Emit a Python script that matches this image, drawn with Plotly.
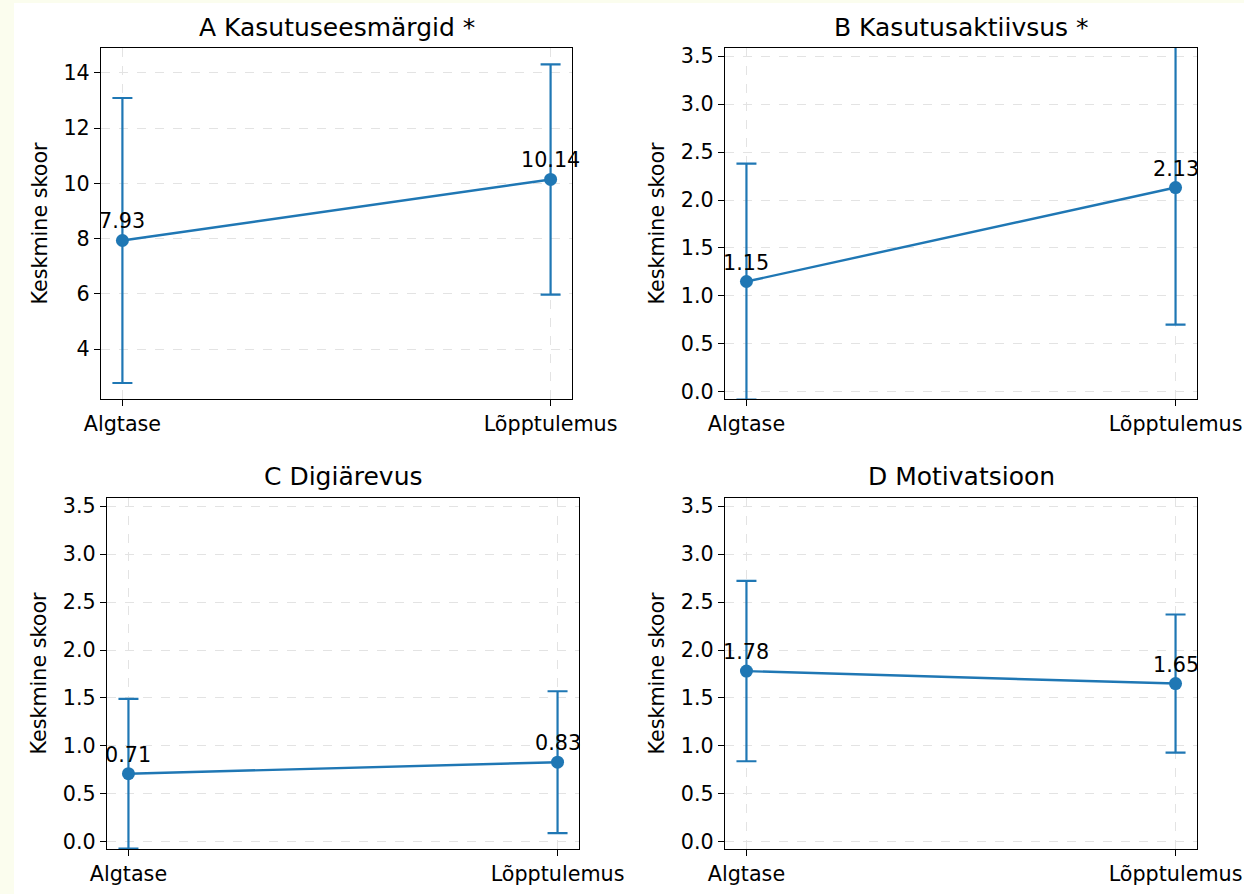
import plotly.graph_objects as go

W, H = 1244, 894

stages = ["Algtase", "Lõpptulemus"]
titles = ["A Kasutuseesmärgid *", "B Kasutusaktiivsus *", "C Digiärevus", "D Motivatsioon"]
means_A = [7.93, 10.14]
err_up_A = [5.16, 4.17]
err_down_A = [5.16, 4.17]
means_B = [1.15, 2.13]
err_up_B = [1.23, 1.50]
err_down_B = [1.23, 1.43]
means_C = [0.71, 0.83]
err_up_C = [0.78, 0.74]
err_down_C = [0.78, 0.74]
means_D = [1.78, 1.65]
err_up_D = [0.94, 0.72]
err_down_D = [0.94, 0.72]
means = [means_A, means_B, means_C, means_D]
errs_up = [err_up_A, err_up_B, err_up_C, err_up_D]
errs_down = [err_down_A, err_down_B, err_down_C, err_down_D]

# axes boxes in pixels: (left, right, top, bottom)
boxes = [(101, 572, 48, 399), (725, 1197, 48, 399), (107, 579, 498, 849), (725, 1197, 498, 849)]
yranges = [[2.19, 14.9], [-0.075, 3.585], [-0.075, 3.585], [-0.075, 3.585]]
yticks = [[4, 6, 8, 10, 12, 14], [0, 0.5, 1, 1.5, 2, 2.5, 3, 3.5]]

COLOR = "#1f77b4"
FONT = "DejaVu Sans"
BG = "#fbfdee"
TICK = 20.7
TITLE = 25

fig = go.Figure()
layout = dict(
    width=W, height=H, margin=dict(l=0, r=0, t=0, b=0, autoexpand=False),
    paper_bgcolor=BG, plot_bgcolor="white", showlegend=False,
    font=dict(family=FONT, size=TICK, color="black"),
)
annotations = []
shapes = [dict(type="rect", xref="paper", yref="paper", x0=14 / W, x1=1, y0=0, y1=1 - 3 / H,
               fillcolor="white", line=dict(width=0), layer="below")]

for i in range(4):
    n = "" if i == 0 else str(i + 1)
    l, r, t, b = boxes[i]
    xa = "x" + n
    ya = "y" + n
    fig.add_trace(go.Scatter(
        x=[0, 1], y=means[i], mode="lines+markers",
        line=dict(color=COLOR, width=2.4),
        marker=dict(color=COLOR, size=13),
        error_y=dict(type="data", symmetric=False, array=errs_up[i], arrayminus=errs_down[i],
                     visible=True, color=COLOR, thickness=2.2, width=10),
        xaxis=xa, yaxis=ya, hoverinfo="skip",
    ))
    tv = yticks[0] if i == 0 else yticks[1]
    layout["xaxis" + n] = dict(
        domain=[l / W, r / W], range=[-0.05, 1.05], anchor=ya, automargin=False,
        tickvals=[0, 1], ticktext=stages, showline=True, mirror=True, linecolor="black", linewidth=1.3,
        ticks="outside", ticklen=6, tickcolor="black", showgrid=True, gridcolor="#e3e3e3",
        griddash="dash", gridwidth=1, zeroline=False, tickfont=dict(size=TICK),
    )
    layout["yaxis" + n] = dict(
        domain=[1 - b / H, 1 - t / H], range=yranges[i], anchor=xa, automargin=False,
        tickvals=tv, tickformat="d" if i == 0 else ".1f",
        showline=True, mirror=True, linecolor="black", linewidth=1.3,
        ticks="outside", ticklen=6, tickcolor="black", showgrid=True, gridcolor="#e3e3e3",
        griddash="dash", gridwidth=1, zeroline=False, tickfont=dict(size=TICK),
        title=dict(text="Keskmine skoor", font=dict(size=TICK), standoff=10),
    )
    annotations.append(dict(
        xref="paper", yref="paper", x=(l + r) / 2 / W, y=1 - (t - 21) / H,
        text=titles[i], showarrow=False, xanchor="center", yanchor="middle",
        font=dict(size=TITLE),
    ))
    for j in range(2):
        annotations.append(dict(
            xref=xa, yref=ya, x=j, y=means[i][j], text=f"{means[i][j]:.2f}",
            showarrow=False, xanchor="center", yanchor="bottom", yshift=5,
            font=dict(size=TICK),
        ))

layout["annotations"] = annotations
layout["shapes"] = shapes
fig.update_layout(**layout)
fig.write_html(
    "out.html",
    config={"displayModeBar": False},
    post_script="document.body.style.margin='0';document.body.style.background='" + BG + "';",
)
